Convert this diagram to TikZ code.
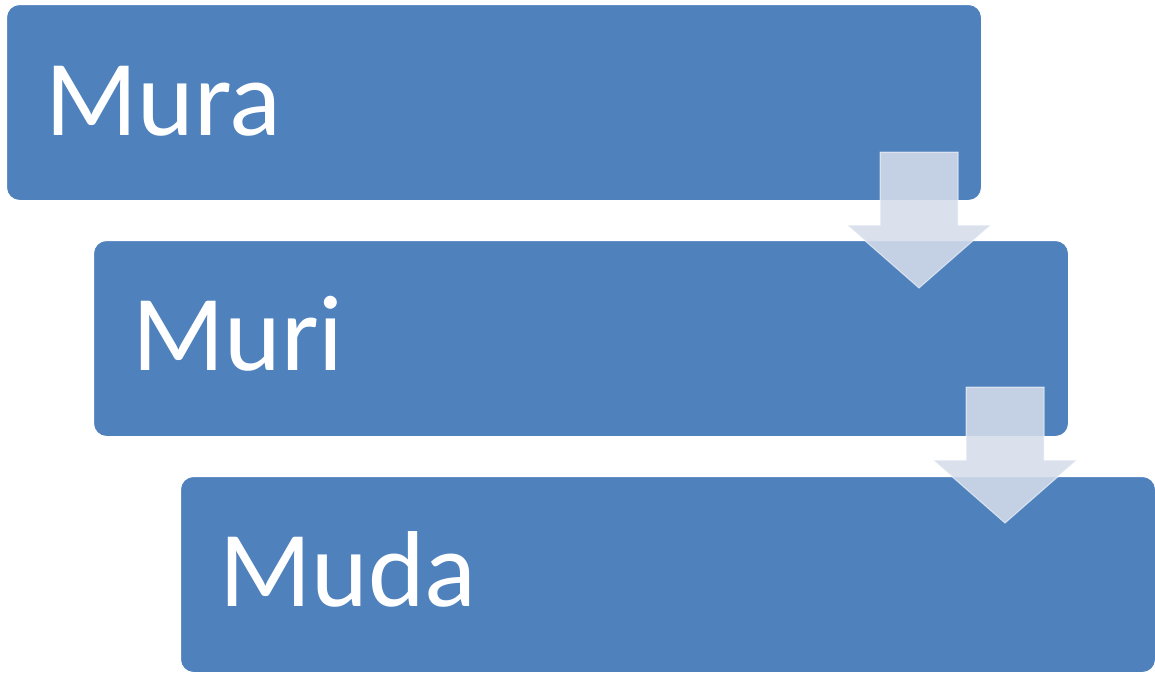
\documentclass[tikz,border=0pt]{standalone}
\usepackage{fontspec}
\setmainfont{Carlito}
\definecolor{boxblue}{RGB}{79,129,189}
\definecolor{arrowfill}{RGB}{213,221,235}
\begin{document}
\begin{tikzpicture}[x=1pt,y=-1pt,
  stage/.style={draw=white, line width=1pt, fill=boxblue, rounded corners=13pt,
    minimum width=975pt, minimum height=196pt, anchor=north west, inner sep=0pt},
  stagetext/.style={anchor=base west, inner sep=0pt, text=white, font=\fontsize{108}{120}\selectfont},
  flow/.style={fill=arrowfill, fill opacity=0.88, draw=white, draw opacity=0.35, line width=1pt}]
  \useasboundingbox (0,0) rectangle (1155,673);
  % three stacked stages
  \node[stage] (s1) at (6,4) {};
  \node[stage] (s2) at (93,240) {};
  \node[stage] (s3) at (180,476) {};
  \node[stagetext] (t1) at (45,135) {Mura};
  \node[stagetext] (t2) at (132,370) {Muri};
  \node[stagetext] (t3) at (219,606) {Muda};
  % block arrows between stages, defined by their tips
  \coordinate (a1) at (919,288);
  \coordinate (a2) at (1005,523);
  \foreach \tip in {a1,a2}{
    \fill[flow] (\tip) ++(-72,-63) -- ++(33,0) -- ++(0,-73) -- ++(78,0) -- ++(0,73)
      -- ++(33,0) -- (\tip) -- cycle;
    \draw[flow, fill=none] (\tip) ++(-72,-63) -- ++(33,0) -- ++(0,-73) -- ++(78,0) -- ++(0,73)
      -- ++(33,0) -- (\tip) -- cycle;
  }
\end{tikzpicture}
\end{document}
